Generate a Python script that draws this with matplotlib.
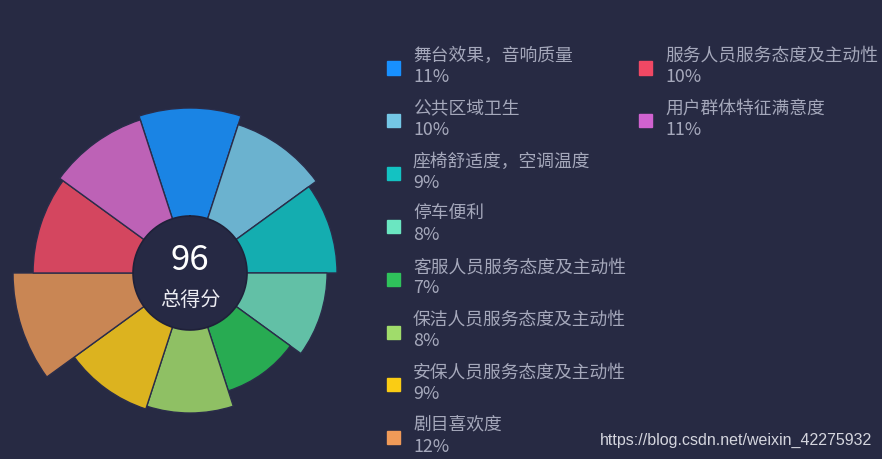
import numpy as np
import matplotlib
matplotlib.use("Agg")
import matplotlib.pyplot as plt
from matplotlib.patches import Rectangle

plt.rcParams['font.family'] = ['Noto Sans CJK SC', 'DejaVu Sans']

# data (clockwise from the top)
names = ['舞台效果，音响质量', '公共区域卫生', '座椅舒适度，空调温度', '停车便利',
         '客服人员服务态度及主动性', '保洁人员服务态度及主动性', '安保人员服务态度及主动性',
         '剧目喜欢度', '服务人员服务态度及主动性', '用户群体特征满意度']
scores = [10.65, 9.9, 9.15, 8.32, 7.23, 8.57, 8.82, 11.65, 9.98, 10.32]
pct_labels = ['11%', '10%', '9%', '8%', '7%', '8%', '9%', '12%', '10%', '11%']
total_score = 96

legend_colors = ['#1890ff', '#74c7e6', '#13c2c2', '#6be6c1', '#2fc25b',
                 '#a0dc6b', '#facc14', '#f09a58', '#f04864', '#d062d0']
slice_colors = ['#1a84e4', '#6bb2cf', '#14adb0', '#62c0a6', '#28ab52',
                '#8fc064', '#dcb31f', '#c98654', '#d4465f', '#bd62b6']

bg = '#272a43'
r_min = -3.1
r_max = 12.5
r_hole = 1.65

fig = plt.figure(figsize=(8.82, 4.59), dpi=100, facecolor=bg)
ax = fig.add_axes([0.0032, -0.0026, 0.4245, 0.8157], projection='polar')
ax.set_facecolor('none')
ax.set_theta_zero_location('N')
ax.set_theta_direction(-1)

n = len(scores)
step = 2 * np.pi / n
theta = np.arange(n) * step
ax.bar(theta, scores, width=step, bottom=0, color=slice_colors,
       edgecolor='#2a2d4a', linewidth=1.0, zorder=2)

# centre disc
ax.bar(0, r_hole - r_min, width=2 * np.pi, bottom=r_min, color='#262944',
       linewidth=0, zorder=3)
ring = np.linspace(0, 2 * np.pi, 361)
ax.plot(ring, np.full_like(ring, r_hole), color='#1f2139', lw=1.2, zorder=4)
ax.set_ylim(r_min, r_max)
ax.axis('off')

fig.text(190 / 882, 1 - 260 / 459, str(total_score), color='white', fontsize=25,
         ha='center', va='center', zorder=5)
fig.text(190 / 882, 1 - 300 / 459, '总得分', color='#ececf2', fontsize=14.5,
         ha='center', va='center', zorder=5)

# legend: 8 rows in the first column, the rest in the second
W, H = 882, 459
for i in range(n):
    col, row = (0, i) if i < 8 else (1, i - 8)
    sx = 387 if col == 0 else 639
    sy = 68 + row * 52.8
    fig.patches.append(Rectangle((sx / W, 1 - (sy + 6.5) / H), 13 / W, 13 / H,
                                 transform=fig.transFigure, color=legend_colors[i]))
    fig.text((sx + 26) / W, 1 - (sy - 12) / H, names[i], color='#a5a8bb',
             fontsize=12.8, ha='left', va='center')
    fig.text((sx + 26) / W, 1 - (sy + 9) / H, pct_labels[i], color='#a5a8bb',
             fontsize=12.8, ha='left', va='center')

fig.text(872 / W, 1 - 440 / H, 'https://blog.csdn.net/weixin_42275932',
         color='#d4d5de', fontsize=11.5, ha='right', va='center',
         family=['Liberation Sans', 'DejaVu Sans'])

fig.savefig('out.png', dpi=100, facecolor=bg)
